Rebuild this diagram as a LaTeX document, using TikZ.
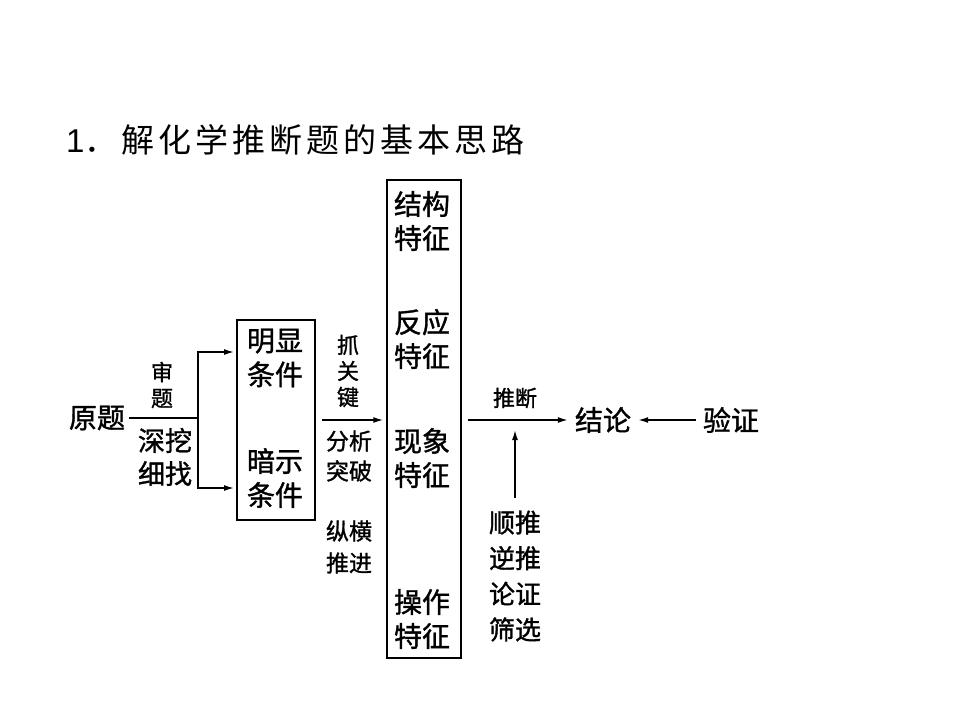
\documentclass[tikz,border=0pt]{standalone}
\usepackage{fontspec}
\setmainfont{Liberation Sans}
\newfontfamily\cjk{Noto Sans CJK SC}
\newfontfamily\cjkb[FakeBold=1.2]{Noto Sans CJK SC}
\usetikzlibrary{arrows.meta}
\tikzset{
  lbl/.style={inner sep=0pt, align=center, font=\cjkb\fontsize{28}{34}\selectfont},
  sml/.style={inner sep=0pt, align=center, font=\cjkb\fontsize{22}{26}\selectfont},
  ln/.style={line width=1.5pt},
  arr/.style={line width=1.5pt, -{Latex[length=10pt,width=6pt]}},
  box/.style={draw, line width=1.5pt, inner sep=0pt}
}
\begin{document}
\begin{tikzpicture}[x=1pt,y=-1pt]
\useasboundingbox (0,0) rectangle (960,720);
\node[anchor=base west, inner sep=0pt] (title) at (66,152)
  {\fontsize{33}{33}\selectfont 1{\cjk\addfontfeature{LetterSpace=12}．解化学推断题的基本思路}};
% left part
\node[lbl] (yt) at (97,418) {原题};
\node[sml] (sht) at (162,385) {审\\题};
\node[lbl, font=\cjkb\fontsize{27}{33}\selectfont] (shen) at (165,457) {深挖\\细找};
\node[box, minimum width=78pt, minimum height=200pt] (b1) at (276,420) {};
\node[lbl] (mx) at (275,358) {明显\\条件};
\node[lbl] (as) at (275,478) {暗示\\条件};
% middle labels
\node[sml] (zg) at (348,371) {抓\\关\\键};
\node[sml, font=\cjkb\fontsize{23}{30}\selectfont] (fx) at (349,456) {分析\\突破};
\node[sml, font=\cjkb\fontsize{23}{32}\selectfont] (zh) at (349,547) {纵横\\推进};
% big box
\node[box, minimum width=74pt, minimum height=478pt] (bb) at (424,419) {};
\node[lbl] (jg) at (422,221) {结构\\特征};
\node[lbl] (fy) at (422,339) {反应\\特征};
\node[lbl] (xx) at (422,458) {现象\\特征};
\node[lbl] (cz) at (422,619) {操作\\特征};
% right part
\node[sml] (td) at (515,398) {推断};
\node[lbl] (jl) at (603,420) {结论};
\node[lbl] (yz) at (731,420) {验证};
\node[lbl, font=\cjkb\fontsize{26}{35.7}\selectfont] (sn) at (515,576) {顺推\\逆推\\论证\\筛选};
% connectors
\coordinate (sp) at (198,418);
\coordinate (t1) at (234,352);
\coordinate (t2) at (234,488);
\draw[ln, shorten <=4pt] (yt) -- (sp);
\draw[arr] (sp) |- (t1);
\draw[arr] (sp) |- (t2);
\coordinate (a2) at (322,420);
\draw[arr, shorten >=3pt] (a2) -- (bb.west |- a2);
\coordinate (a3) at (468,420);
\draw[arr, shorten >=7pt] (a3) -- (jl);
\draw[arr, shorten <=7pt, shorten >=7pt] (yz) -- (jl);
\coordinate (vt) at (515,430);
\draw[arr, shorten <=12pt] (sn.north) -- (vt);
\end{tikzpicture}
\end{document}
